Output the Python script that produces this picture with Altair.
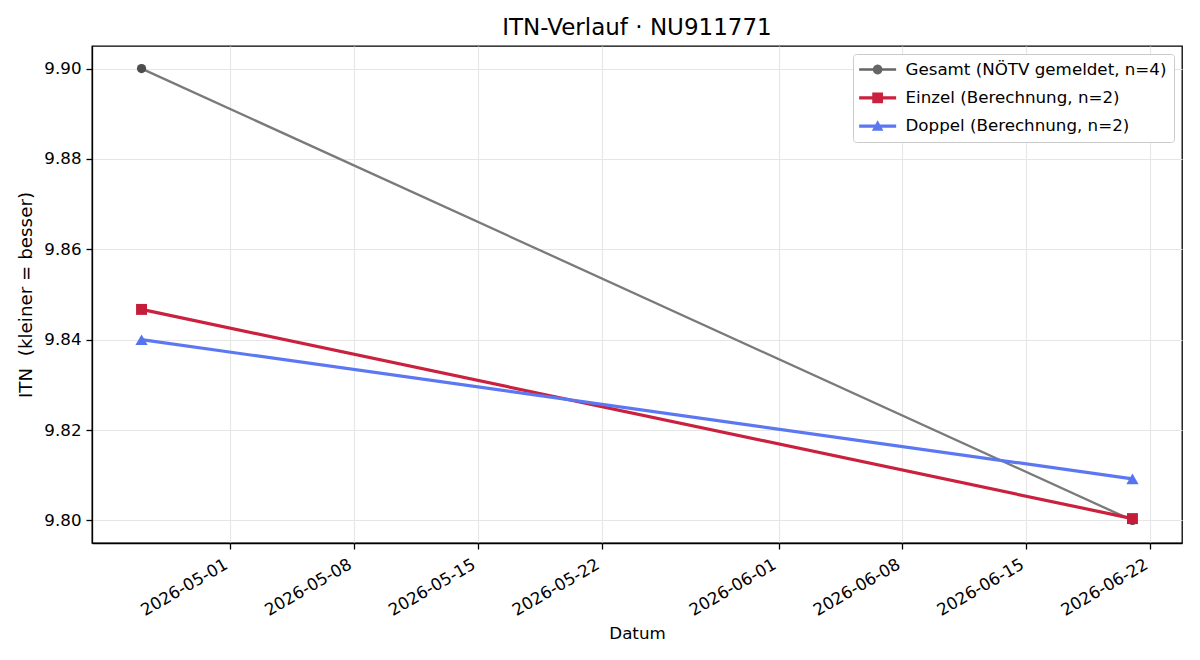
import altair as alt
import pandas as pd

# --- data -------------------------------------------------------------
series_names = [
    "Gesamt (NÖTV gemeldet, n=4)",
    "Einzel (Berechnung, n=2)",
    "Doppel (Berechnung, n=2)",
]
dates_gesamt = ["2026-04-26T00:00:00Z", "2026-06-21T00:00:00Z"]
itn_gesamt = [9.90, 9.80]
dates_einzel = ["2026-04-26T00:00:00Z", "2026-06-21T00:00:00Z"]
itn_einzel = [9.8467, 9.8004]
dates_doppel = ["2026-04-26T00:00:00Z", "2026-06-21T00:00:00Z"]
itn_doppel = [9.84, 9.8092]

y_ticks = [9.80, 9.82, 9.84, 9.86, 9.88, 9.90]
x_ticks = ["2026-05-01", "2026-05-08", "2026-05-15", "2026-05-22",
           "2026-06-01", "2026-06-08", "2026-06-15", "2026-06-22"]

# --- styling ----------------------------------------------------------
FONT = "DejaVu Sans"
line_colors = ["#7a7a7a", "#c9213e", "#5b77f2"]
marker_colors = ["#4d4d4d", "#c41d3a", "#5673f2"]
line_widths = [2.3, 3.2, 3.2]
marker_shapes = ["circle", "square", "triangle-up"]
marker_sizes = [85, 120, 150]

frames = []
for name, d, v in [
    (series_names[0], dates_gesamt, itn_gesamt),
    (series_names[1], dates_einzel, itn_einzel),
    (series_names[2], dates_doppel, itn_doppel),
]:
    frames.append(pd.DataFrame({"series": name, "datum": d, "itn": v}))
df = pd.concat(frames, ignore_index=True)


def dt(s, hours=0, minutes=0):
    y, m, d = (int(p) for p in s.split("-"))
    return alt.DateTime(year=y, month=m, date=d, hours=hours, minutes=minutes, utc=True)


x_enc = alt.X(
    "datum:T",
    title="Datum",
    scale=alt.Scale(type="utc", domain=[dt("2026-04-23", 4, 48), dt("2026-06-23", 19, 12)]),
    axis=alt.Axis(
        values=[dt(t) for t in x_ticks],
        labelExpr="utcFormat(datum.value, '%Y-%m-%d')",
        labelAngle=330,
        labelAlign="right",
        labelBaseline="top",
        labelPadding=7,
        labelOffset=-8,
        titlePadding=7,
    ),
)
y_enc = alt.Y(
    "itn:Q",
    title="ITN\u00a0\u00a0(kleiner = besser)",
    scale=alt.Scale(domain=[9.795, 9.905], nice=False, zero=False),
    axis=alt.Axis(values=y_ticks, format=".2f", labelPadding=5, titlePadding=8, titleFontSize=18.3),
)

base = alt.Chart(df)
layers = []
for i, name in enumerate(series_names):
    sub = base.transform_filter(alt.datum.series == name)
    layers.append(
        sub.mark_line(strokeWidth=line_widths[i], color=line_colors[i]).encode(x=x_enc, y=y_enc)
    )
    layers.append(
        sub.mark_point(
            filled=True, opacity=1, shape=marker_shapes[i], size=marker_sizes[i], color=marker_colors[i]
        ).encode(x=x_enc, y=y_enc)
    )

# legend glyphs: a short line with the series marker in the middle
SYMBOL_SIZE = 279
U = SYMBOL_SIZE ** 0.5 / 2  # px per path unit
x0, x1, mx = -9.35 / U, 27.65 / U, 9.15 / U


def rect(a, b, h):
    return f"M{a:.3f},{-h:.3f}L{b:.3f},{-h:.3f}L{b:.3f},{h:.3f}L{a:.3f},{h:.3f}Z"


def glyph(kind, lw):
    h = (lw / 2) / U
    if kind == "circle":
        r = 4.8 / U
        m = (f"M{mx - r:.3f},0A{r:.3f},{r:.3f} 0 1,1 {mx + r:.3f},0"
             f"A{r:.3f},{r:.3f} 0 1,1 {mx - r:.3f},0Z")
    elif kind == "square":
        r = 5.4 / U
        m = f"M{mx - r:.3f},{-r:.3f}L{mx + r:.3f},{-r:.3f}L{mx + r:.3f},{r:.3f}L{mx - r:.3f},{r:.3f}Z"
    else:
        r = 5.8 / U
        m = f"M{mx:.3f},{-r:.3f}L{mx + r:.3f},{0.8 * r:.3f}L{mx - r:.3f},{0.8 * r:.3f}Z"
    return rect(x0, mx, h) + rect(mx, x1, h) + m


legend_paths = [glyph(k, lw) for k, lw in zip(marker_shapes, line_widths)]
legend_colors = ["#666666", line_colors[1], line_colors[2]]

legend_layer = base.mark_point(filled=True, opacity=0).encode(
    x=x_enc,
    y=y_enc,
    color=alt.Color(
        "series:N",
        scale=alt.Scale(domain=series_names, range=legend_colors),
        legend=alt.Legend(title=None),
    ),
    shape=alt.Shape(
        "series:N",
        scale=alt.Scale(domain=series_names, range=legend_paths),
        legend=alt.Legend(title=None),
    ),
)

chart = (
    alt.layer(*layers, legend_layer)
    .properties(
        width=1090,
        height=497,
        title=alt.TitleParams(
            "ITN-Verlauf · NU911771",
            font=FONT,
            fontSize=23,
            fontWeight="normal",
            color="black",
            anchor="middle",
            baseline="alphabetic",
            offset=-12,
        ),
        autosize=alt.AutoSizeParams(type="none"),
        padding={"left": 92, "top": 46, "right": 18, "bottom": 117},
    )
    .configure_view(stroke="black", strokeWidth=1.3)
    .configure_axis(
        labelFont=FONT,
        labelFontSize=16.7,
        labelColor="black",
        titleFont=FONT,
        titleFontSize=16.7,
        titleFontWeight="normal",
        titleColor="black",
        domainColor="black",
        domainWidth=1.3,
        tickColor="black",
        tickWidth=1.3,
        tickSize=6,
        gridColor="#e6e6e6",
        gridWidth=1.2,
    )
    .configure_legend(
        orient="top-right",
        offset=8,
        padding=7,
        rowPadding=10.3,
        labelOffset=28.5,
        labelLimit=0,
        labelFont=FONT,
        labelFontSize=16.7,
        labelColor="black",
        symbolSize=SYMBOL_SIZE,
        symbolStrokeWidth=0,
        symbolOpacity=1,
        strokeColor="#cccccc",
        fillColor="white",
        cornerRadius=3,
    )
)

chart.save("out.html", embed_options={"renderer": "svg", "actions": False})
